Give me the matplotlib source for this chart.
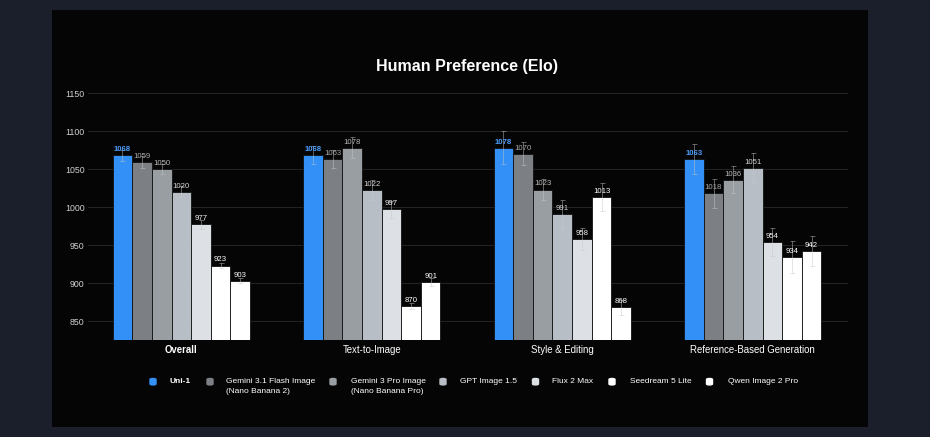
import matplotlib
matplotlib.use("Agg")
import matplotlib.pyplot as plt
import numpy as np
from matplotlib.patches import Rectangle, FancyBboxPatch

plt.rcParams['font.family'] = ['Liberation Sans', 'DejaVu Sans']

categories = ["Overall", "Text-to-Image", "Style & Editing", "Reference-Based Generation"]
models = ["Uni-1", "Gemini 3.1 Flash Image\n(Nano Banana 2)", "Gemini 3 Pro Image\n(Nano Banana Pro)",
          "GPT Image 1.5", "Flux 2 Max", "Seedream 5 Lite", "Qwen Image 2 Pro"]
uni1 = [1068, 1068, 1078, 1063]
gemini31 = [1059, 1063, 1070, 1018]
gemini3pro = [1050, 1078, 1023, 1036]
gpt15 = [1020, 1022, 991, 1051]
flux2 = [977, 997, 958, 954]
seedream5 = [923, 870, 1013, 934]
qwen2 = [903, 901, 868, 942]

err_uni1 = [7, 12, 22, 20]
err_gemini31 = [8, 12, 15, 19]
err_gemini3pro = [7, 14, 14, 18]
err_gpt15 = [7, 13, 18, 20]
err_flux2 = [6, 11, 15, 19]
err_seedream5 = [3, 4, 18, 21]
err_qwen2 = [3, 5, 10, 20]

series = [uni1, gemini31, gemini3pro, gpt15, flux2, seedream5, qwen2]
errors = [err_uni1, err_gemini31, err_gemini3pro, err_gpt15, err_flux2, err_seedream5, err_qwen2]
colors = ["#3390f7", "#7c8085", "#999ea3", "#b8bec5", "#dde1e6", "#ffffff", "#ffffff"]
label_colors = ["#4c9cf9", "#a8a8a8", "#b8b8b8", "#d5d5d5", "#f2f2f2", "#ffffff", "#ffffff"]
label_weights = ["bold", "normal", "normal", "normal", "normal", "normal", "normal"]

W, H = 930, 437
fig = plt.figure(figsize=(W / 100, H / 100), dpi=100, facecolor="#1b1f2b")

# black inner panel
fig.patches.append(Rectangle((52 / W, 1 - 427 / H), (868 - 52) / W, (427 - 10) / H,
                             transform=fig.transFigure, facecolor="#050505", edgecolor="none", zorder=-5))

ax = fig.add_axes([88 / W, 1 - 340 / H, (848 - 88) / W, (340 - 85.4) / H])
ax.set_facecolor("none")
ax.set_ylim(825, 1160)
ax.set_xlim(-0.49, 3.5)

bw = 0.103
x = np.arange(len(categories))
for j, (vals, errs) in enumerate(zip(series, errors)):
    xs = x + (j - 3) * bw
    ax.bar(xs, np.array(vals) - 825, bottom=825, width=bw, color=colors[j], edgecolor="#111111",
           linewidth=0.6, zorder=3)
    ax.errorbar(xs, vals, yerr=errs, fmt="none", ecolor="#c8c8c8", elinewidth=0.6, capsize=1.8,
                capthick=0.6, alpha=0.55, zorder=4)
    for xi, v in zip(xs, vals):
        ax.annotate(str(v), (xi, v), xytext=(0, 1.5), textcoords="offset points", ha="center",
                    va="bottom", fontsize=5.6, color=label_colors[j], fontweight=label_weights[j], zorder=5)

ax.set_yticks([850, 900, 950, 1000, 1050, 1100, 1150])
ax.grid(axis="y", color="#242424", linewidth=0.7, zorder=0)
ax.set_xticks(x)
ax.set_xticklabels(categories)
for i, t in enumerate(ax.get_xticklabels()):
    t.set_color("white")
    t.set_fontsize(6.9)
    if i == 0:
        t.set_fontweight("bold")
ax.tick_params(axis="x", length=0, pad=3.5)
ax.tick_params(axis="y", length=0, pad=2.5, labelsize=6.3, labelcolor="#d0d0d0")
for s in ax.spines.values():
    s.set_visible(False)

fig.text(467 / W, 1 - 66 / H, "Human Preference (Elo)", ha="center", va="center", color="white",
         fontsize=11.5, fontweight="bold")

# legend
mx = [153, 210, 333, 443, 535.5, 612, 709.5]
tx = [169, 226, 351, 459.5, 551.5, 629.5, 727.5]
ly = 381.7
for j, name in enumerate(models):
    fig.patches.append(FancyBboxPatch(((mx[j] - 3.7) / W, 1 - (ly + 3.9) / H), 7.4 / W, 7.8 / H,
                                      boxstyle="round,pad=0,rounding_size=0.0035",
                                      transform=fig.transFigure, facecolor=colors[j], edgecolor="none"))
    fig.text(tx[j] / W, 1 - (ly - 3.6) / H, name, ha="left", va="top", color="white",
             fontsize=6, fontweight="bold" if j == 0 else "normal", linespacing=1.62)

fig.savefig("out.png", dpi=100, facecolor=fig.get_facecolor())
